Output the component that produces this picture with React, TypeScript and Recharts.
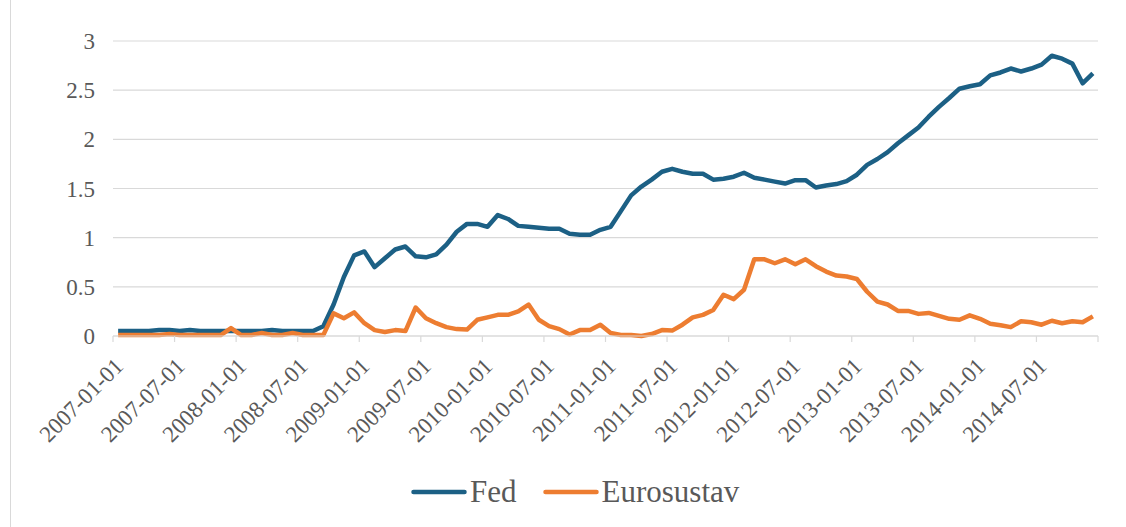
import React from 'react';
import { LineChart, Line, XAxis, YAxis, CartesianGrid, Legend } from 'recharts';

// monthly values, 2007-01 .. 2014-12
const fedRates = [
  0.05, 0.05, 0.05, 0.05, 0.06, 0.06, 0.05, 0.06, 0.05, 0.05, 0.05, 0.05,
  0.05, 0.05, 0.05, 0.06, 0.05, 0.05, 0.05, 0.05, 0.10, 0.32, 0.60, 0.82,
  0.86, 0.70, 0.79, 0.88, 0.91, 0.81, 0.80, 0.83, 0.93, 1.06, 1.14, 1.14,
  1.11, 1.23, 1.19, 1.12, 1.11, 1.10, 1.09, 1.09, 1.04, 1.03, 1.03, 1.08,
  1.11, 1.27, 1.43, 1.52, 1.59, 1.67, 1.70, 1.67, 1.65, 1.65, 1.59, 1.60,
  1.62, 1.66, 1.61, 1.59, 1.57, 1.55, 1.585, 1.585, 1.51, 1.53, 1.545, 1.575,
  1.64, 1.74, 1.80, 1.87, 1.96, 2.04, 2.12, 2.23, 2.33, 2.42, 2.515, 2.54,
  2.56, 2.65, 2.68, 2.72, 2.69, 2.72, 2.76, 2.85, 2.82, 2.77, 2.57, 2.67,
];

const euroRates = [
  0.01, 0.01, 0.01, 0.01, 0.01, 0.02, 0.01, 0.01, 0.01, 0.01, 0.01, 0.08,
  0.01, 0.01, 0.03, 0.01, 0.01, 0.03, 0.01, 0.01, 0.01, 0.23, 0.18, 0.24,
  0.13, 0.06, 0.04, 0.06, 0.05, 0.29, 0.18, 0.13, 0.09, 0.07, 0.065, 0.165,
  0.19, 0.215, 0.215, 0.25, 0.32, 0.165, 0.10, 0.07, 0.015, 0.06, 0.06, 0.115,
  0.03, 0.01, 0.01, 0.0, 0.02, 0.06, 0.055, 0.115, 0.19, 0.215, 0.265, 0.42,
  0.375, 0.47, 0.78, 0.78, 0.74, 0.78, 0.73, 0.78, 0.71, 0.655, 0.615, 0.605,
  0.58, 0.45, 0.35, 0.32, 0.255, 0.255, 0.225, 0.235, 0.205, 0.175, 0.165, 0.21,
  0.175, 0.125, 0.11, 0.09, 0.15, 0.14, 0.115, 0.155, 0.13, 0.15, 0.14, 0.20,
];

const tickLabels = [
  '2007-01-01', '2007-07-01', '2008-01-01', '2008-07-01',
  '2009-01-01', '2009-07-01', '2010-01-01', '2010-07-01',
  '2011-01-01', '2011-07-01', '2012-01-01', '2012-07-01',
  '2013-01-01', '2013-07-01', '2014-01-01', '2014-07-01', '',
];

const yTicks = [0, 0.5, 1, 1.5, 2, 2.5, 3];

const FED_COLOR = '#1c6085';
const EURO_COLOR = '#ed7d31';
const TEXT_COLOR = '#595959';
const GRID_COLOR = '#d9d9d9';
const FONT = '"Liberation Serif", "Times New Roman", serif';

const data = fedRates.map((fed, i) => ({ idx: i, Fed: fed, Eurosustav: euroRates[i] }));
// tick marks sit on the month boundaries, every 6 months
const xTicks = tickLabels.map((_, k) => k * 6 - 0.5);

function LegendContent() {
  const item = (color: string, label: string) => (
    <div style={{ display: 'flex', alignItems: 'center' }}>
      <svg width={56} height={10}>
        <line x1={2.5} y1={5} x2={53.5} y2={5} stroke={color} strokeWidth={4.5} strokeLinecap="round" />
      </svg>
      <span style={{ marginLeft: 3, fontSize: 31, lineHeight: '36px', color: TEXT_COLOR, fontFamily: FONT }}>{label}</span>
    </div>
  );
  return (
    <div style={{ display: 'flex', alignItems: 'center', gap: 26 }}>
      {item(FED_COLOR, 'Fed')}
      {item(EURO_COLOR, 'Eurosustav')}
    </div>
  );
}

export default function App() {
  return (
    <div style={{ position: 'absolute', left: 0, top: 0, width: 1126, height: 527, background: '#fff', fontFamily: FONT }}>
      <div style={{ position: 'absolute', left: 10, top: 0, width: 1, height: 527, background: GRID_COLOR }} />
      <LineChart
        width={1126}
        height={527}
        data={data}
        margin={{ top: 41, right: 28, left: 0, bottom: 0 }}
      >
        <CartesianGrid vertical={false} stroke={GRID_COLOR} strokeWidth={1.2} />
        <XAxis
          dataKey="idx"
          type="number"
          domain={[-0.5, 95.5]}
          ticks={xTicks}
          interval={0}
          tickFormatter={(v: number) => tickLabels[Math.round((v + 0.5) / 6)] ?? ''}
          height={191}
          angle={-45}
          textAnchor="end"
          stroke={GRID_COLOR}
          strokeWidth={1.2}
          tickSize={6}
          tickMargin={14}
          tick={{ fill: TEXT_COLOR, fontSize: 23, fontFamily: FONT }}
        />
        <YAxis
          domain={[0, 3]}
          ticks={yTicks}
          width={113}
          axisLine={false}
          tickLine={false}
          tickSize={0}
          tickMargin={18}
          tick={{ fill: TEXT_COLOR, fontSize: 23, fontFamily: FONT }}
        />
        <Legend
          layout="horizontal"
          verticalAlign="middle"
          content={() => <LegendContent />}
          wrapperStyle={{ top: 474, left: 411, width: 400, height: 40 }}
        />
        <Line
          type="linear"
          dataKey="Fed"
          stroke={FED_COLOR}
          strokeWidth={4.5}
          dot={false}
          activeDot={false}
          strokeLinejoin="round"
          isAnimationActive={false}
        />
        <Line
          type="linear"
          dataKey="Eurosustav"
          stroke={EURO_COLOR}
          strokeWidth={4.5}
          dot={false}
          activeDot={false}
          strokeLinejoin="round"
          isAnimationActive={false}
        />
      </LineChart>
    </div>
  );
}
